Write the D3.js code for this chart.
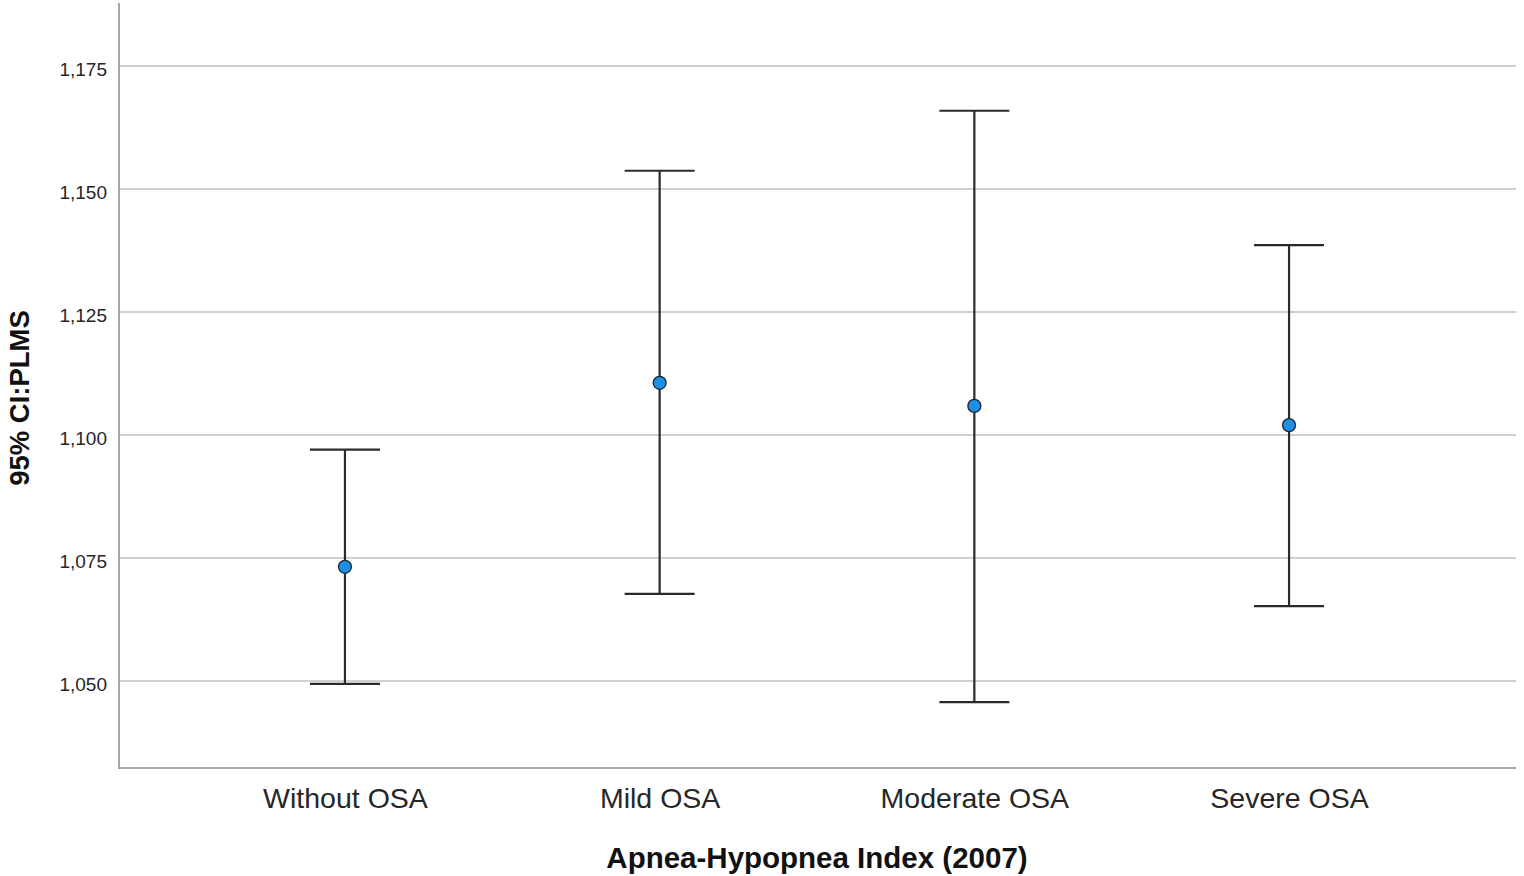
<!DOCTYPE html>
<html>
<head>
<meta charset="utf-8">
<script src="https://cdn.jsdelivr.net/npm/d3@7"></script>
<style>
  body { margin: 0; background: #fff; }
  svg { display: block; }
  text { font-family: Arial, 'Liberation Sans', sans-serif; }
</style>
</head>
<body>
<div id="chart"></div>
<script>
// data
var categories = ['Without OSA', 'Mild OSA', 'Moderate OSA', 'Severe OSA']
var means = [1.0732, 1.1106, 1.1059, 1.1020]
var lowerCI = [1.0494, 1.0677, 1.0457, 1.0652]
var upperCI = [1.0970, 1.1537, 1.1659, 1.1386]
var yTicks = [1.050, 1.075, 1.100, 1.125, 1.150, 1.175]

var xTitle = 'Apnea-Hypopnea Index (2007)'
var yTitle = '95% CI:PLMS'

// layout settings
var chart = {
  width: 1524,
  height: 876,
  left: 119,
  right: 1515,
  top: 3,
  bottom: 768
}

var locale = d3.formatLocale({ decimal: ',', thousands: '.', grouping: [3], currency: ['', ''] })
var fmt = locale.format('.3f')

var x = d3.scalePoint()
  .domain(categories)
  .range([chart.left, chart.right])
  .padding(0.718)

var y = d3.scaleLinear()
  .domain([1.0323, 1.1878])
  .range([chart.bottom, chart.top])

var svg = d3.select('#chart')
  .append('svg')
  .attr('width', chart.width)
  .attr('height', chart.height)

// gridlines
svg.append('g')
  .attr('class', 'grid')
  .selectAll('line')
  .data(yTicks)
  .enter()
  .append('line')
  .attr('x1', chart.left)
  .attr('x2', chart.right + 1)
  .attr('y1', function (d) { return y(d) })
  .attr('y2', function (d) { return y(d) })
  .attr('stroke', '#d0d0d0')
  .attr('stroke-width', 2)

// y axis
var yAxis = d3.axisLeft(y)
  .tickValues(yTicks)
  .tickFormat(fmt)
  .tickSize(0)
  .tickPadding(12)

var gy = svg.append('g')
  .attr('transform', 'translate(' + chart.left + ',0)')
  .call(yAxis)
gy.select('.domain').remove()
gy.selectAll('text')
  .attr('font-size', 19)
  .attr('fill', '#262626')
  .attr('dy', '0.65em')
  .attr('y', -3)

// x axis
var xAxis = d3.axisBottom(x)
  .tickSize(0)
  .tickPadding(0)

var gx = svg.append('g')
  .attr('transform', 'translate(0,' + chart.bottom + ')')
  .call(xAxis)
gx.select('.domain').remove()
gx.selectAll('text')
  .attr('font-size', 28.5)
  .attr('fill', '#262626')
  .attr('dy', 0)
  .attr('y', 40)

// axis lines
svg.append('line')
  .attr('x1', chart.left).attr('x2', chart.left)
  .attr('y1', chart.top).attr('y2', chart.bottom + 1)
  .attr('stroke', '#8a8a8a')
  .attr('stroke-width', 1.5)
svg.append('line')
  .attr('x1', chart.left).attr('x2', chart.right + 1)
  .attr('y1', chart.bottom).attr('y2', chart.bottom)
  .attr('stroke', '#8a8a8a')
  .attr('stroke-width', 1.5)

// error bars
var bars = svg.append('g').attr('class', 'errorbars')
var capHalf = 35

bars.selectAll('.stem')
  .data(categories)
  .enter()
  .append('line')
  .attr('class', 'stem')
  .attr('x1', function (d) { return x(d) })
  .attr('x2', function (d) { return x(d) })
  .attr('y1', function (d, i) { return y(upperCI[i]) })
  .attr('y2', function (d, i) { return y(lowerCI[i]) })
  .attr('stroke', '#2a2a2a')
  .attr('stroke-width', 2.2)

bars.selectAll('.capTop')
  .data(categories)
  .enter()
  .append('line')
  .attr('class', 'capTop')
  .attr('x1', function (d) { return x(d) - capHalf })
  .attr('x2', function (d) { return x(d) + capHalf })
  .attr('y1', function (d, i) { return y(upperCI[i]) })
  .attr('y2', function (d, i) { return y(upperCI[i]) })
  .attr('stroke', '#2a2a2a')
  .attr('stroke-width', 2.2)

bars.selectAll('.capBottom')
  .data(categories)
  .enter()
  .append('line')
  .attr('class', 'capBottom')
  .attr('x1', function (d) { return x(d) - capHalf })
  .attr('x2', function (d) { return x(d) + capHalf })
  .attr('y1', function (d, i) { return y(lowerCI[i]) })
  .attr('y2', function (d, i) { return y(lowerCI[i]) })
  .attr('stroke', '#2a2a2a')
  .attr('stroke-width', 2.2)

// mean points
svg.append('g')
  .selectAll('circle')
  .data(categories)
  .enter()
  .append('circle')
  .attr('cx', function (d) { return x(d) })
  .attr('cy', function (d, i) { return y(means[i]) })
  .attr('r', 6.5)
  .attr('fill', '#1e8fe3')
  .attr('stroke', '#1a2530')
  .attr('stroke-width', 1.3)

// axis titles
svg.append('text')
  .attr('x', (chart.left + chart.right) / 2)
  .attr('y', 868)
  .attr('text-anchor', 'middle')
  .attr('font-size', 29.5)
  .attr('font-weight', 'bold')
  .attr('fill', '#111')
  .text(xTitle)

svg.append('text')
  .attr('transform', 'translate(29,398) rotate(-90)')
  .attr('text-anchor', 'middle')
  .attr('font-size', 27.5)
  .attr('font-weight', 'bold')
  .attr('fill', '#111')
  .text(yTitle)
</script>
</body>
</html>
